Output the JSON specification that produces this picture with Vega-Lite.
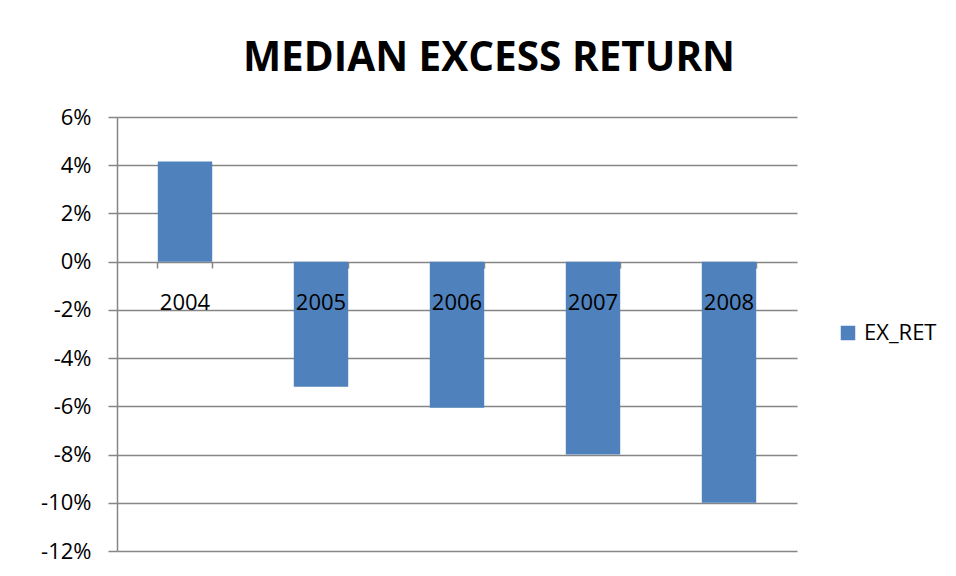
{
  "$schema": "https://vega.github.io/schema/vega-lite/v6.json",
  "width": 680,
  "height": 434,
  "autosize": {"type": "none"},
  "padding": {"left": 117, "top": 117, "right": 159, "bottom": 25},
  "background": "white",
  "title": {
    "text": "MEDIAN EXCESS RETURN",
    "font": "Open Sans",
    "fontSize": 40.5,
    "fontWeight": "bold",
    "color": "black",
    "anchor": "middle",
    "frame": "group",
    "baseline": "alphabetic",
    "offset": -5,
    "dx": 32
  },
  "data": {
    "values": [
      {"year": "2004", "ex_ret": 0.0415, "series": "EX_RET"},
      {"year": "2005", "ex_ret": -0.0519, "series": "EX_RET"},
      {"year": "2006", "ex_ret": -0.0606, "series": "EX_RET"},
      {"year": "2007", "ex_ret": -0.080, "series": "EX_RET"},
      {"year": "2008", "ex_ret": -0.100, "series": "EX_RET"}
    ]
  },
  "config": {
    "view": {"stroke": null},
    "font": "Open Sans"
  },
  "layer": [
    {
      "mark": {"type": "bar", "color": "#4F81BD"},
      "encoding": {
        "x": {
          "field": "year",
          "type": "nominal",
          "sort": null,
          "scale": {"paddingInner": 0.6, "paddingOuter": 0.3},
          "axis": {
            "title": null,
            "labels": false,
            "domain": false,
            "ticks": true,
            "tickSize": 6,
            "tickColor": "#868686",
            "tickWidth": 1.5,
            "bandPosition": 1,
            "tickExtra": true,
            "offset": -289
          }
        },
        "y": {
          "field": "ex_ret",
          "type": "quantitative",
          "scale": {"domain": [-0.12, 0.06], "nice": false, "zero": false},
          "axis": {
            "title": null,
            "values": [-0.12, -0.10, -0.08, -0.06, -0.04, -0.02, 0, 0.02, 0.04, 0.06],
            "format": ".0%",
            "labelExpr": "replace(datum.label, '\u2212', '-')",
            "labelFontSize": 22,
            "labelColor": "black",
            "labelPadding": 17,
            "tickSize": 9,
            "tickColor": "#868686",
            "tickWidth": 1.5,
            "domainColor": "#868686",
            "domainWidth": 1.5,
            "gridColor": "#868686",
            "gridWidth": 1.5,
            "grid": true
          }
        },
        "color": {
          "field": "series",
          "type": "nominal",
          "scale": {"range": ["#4F81BD"]},
          "legend": {
            "title": null,
            "orient": "none",
            "legendX": 720,
            "legendY": 205,
            "symbolType": "square",
            "symbolSize": 210,
            "symbolStrokeWidth": 0,
            "labelFontSize": 22,
            "labelColor": "black",
            "labelOffset": 5
          }
        }
      }
    },
    {
      "mark": {"type": "text", "fontSize": 22, "color": "black", "dy": 41, "baseline": "middle"},
      "encoding": {
        "x": {"field": "year", "type": "nominal", "sort": null},
        "y": {"datum": 0, "type": "quantitative"},
        "text": {"field": "year"}
      }
    }
  ]
}
